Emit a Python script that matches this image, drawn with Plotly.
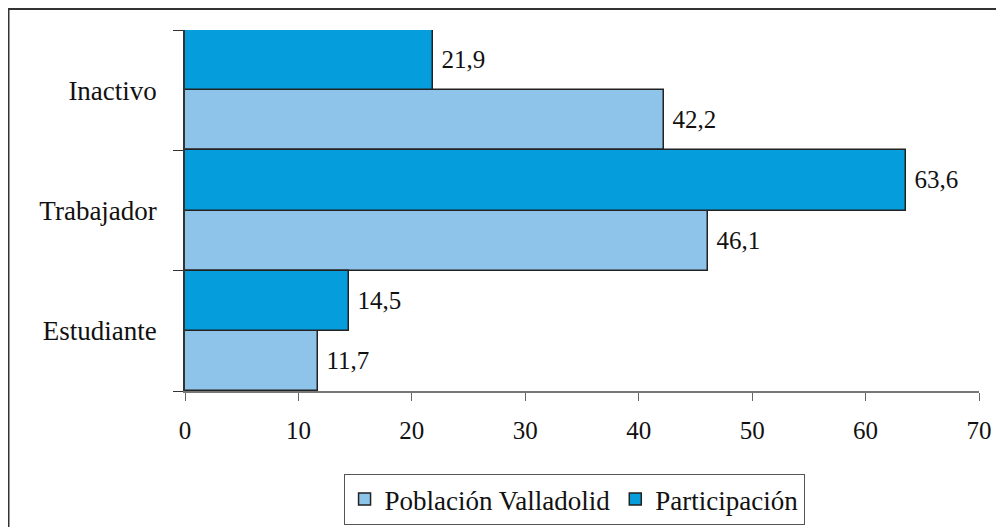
import plotly.graph_objects as go

categories = ["Estudiante", "Trabajador", "Inactivo"]
poblacion = [11.7, 46.1, 42.2]
participacion = [14.5, 63.6, 21.9]
x_ticks = [0, 10, 20, 30, 40, 50, 60, 70]

def fmt(v):
    return " " + f"{v:.1f}".replace(".", ",")

FONT = "Liberation Serif"
FS_NUM = 25
FS_TXT = 27

fig = go.Figure()
fig.add_trace(go.Bar(
    y=categories, x=poblacion, orientation="h", name="Población Valladolid",
    marker=dict(color="#8ec4ea", line=dict(color="#222222", width=1.5)),
    text=[fmt(v) for v in poblacion], textposition="outside",
    textfont=dict(family=FONT, size=FS_NUM, color="#111"), cliponaxis=False,
    constraintext="none",
))
fig.add_trace(go.Bar(
    y=categories, x=participacion, orientation="h", name="Participación",
    marker=dict(color="#059ddc", line=dict(color="#222222", width=1.5)),
    text=[fmt(v) for v in participacion], textposition="outside",
    textfont=dict(family=FONT, size=FS_NUM, color="#111"), cliponaxis=False,
    constraintext="none",
))

# page has an 8px body margin: figure coords = page coords - 8
W, H = 996, 519
L, R, T, B = 177, 25, 22, 136
pw, ph = W - L - R, H - T - B
ax_y = H - B  # figure px of x-axis line

fig.update_layout(
    width=W, height=H,
    margin=dict(l=L, r=R, t=T, b=B, autoexpand=False),
    paper_bgcolor="white", plot_bgcolor="white",
    barmode="group", bargap=0, bargroupgap=0,
    font=dict(family=FONT, size=FS_TXT, color="#111"),
    showlegend=True,
    legend=dict(
        orientation="h", x=0.49, xanchor="center", y=(ax_y - 466) / ph, yanchor="top",
        bordercolor="#555", borderwidth=1, font=dict(family=FONT, size=FS_TXT, color="#111"),
        traceorder="normal",
    ),
    xaxis=dict(
        range=[0, 70], tickvals=x_ticks, ticks="outside", ticklen=8, tickcolor="#666",
        showline=True, linecolor="#777", linewidth=1.5, showgrid=False, zeroline=False,
        ticklabelstandoff=8, tickfont=dict(family=FONT, size=FS_NUM, color="#111"),
    ),
    yaxis=dict(
        categoryorder="array", categoryarray=categories,
        ticks="outside", ticklen=10, tickcolor="#333", tickson="boundaries",
        showline=True, linecolor="#333", linewidth=1.5, showgrid=False,
        ticklabelstandoff=21, tickfont=dict(family=FONT, size=FS_TXT, color="#111"),
    ),
    shapes=[dict(
        type="rect", xref="paper", yref="paper",
        x0=(0.5 - L) / pw, x1=(W + 20 - L) / pw,
        y0=(ax_y - (H + 20)) / ph, y1=(ax_y - 1) / ph,
        line=dict(color="#333", width=2), fillcolor="rgba(0,0,0,0)", layer="below",
    )],
)

fig.write_html("out.html")
